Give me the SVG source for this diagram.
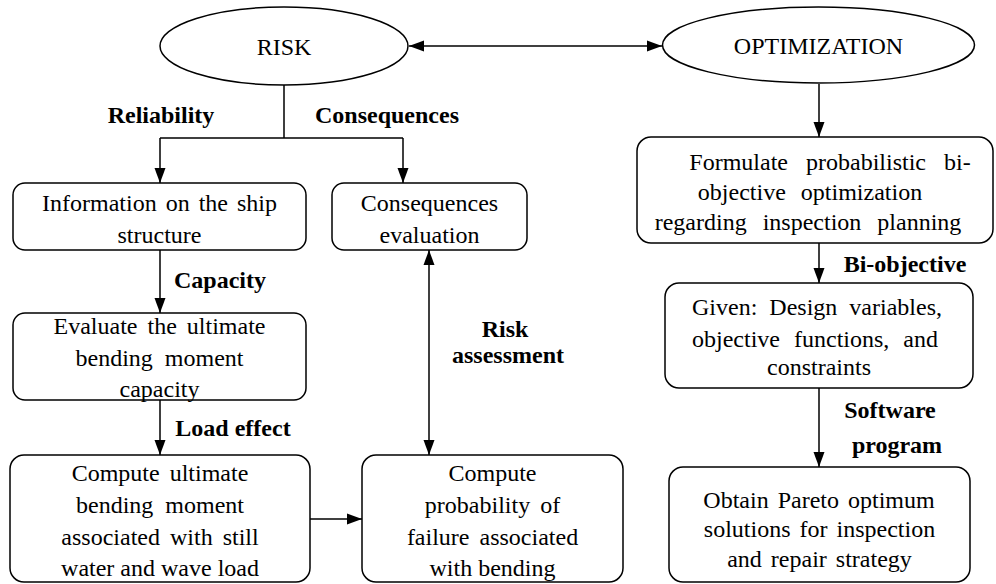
<svg xmlns="http://www.w3.org/2000/svg" width="996" height="584" viewBox="0 0 996 584">
<style>
.n{fill:#fff;stroke:#000;stroke-width:1.5}
.t{font-family:"Liberation Serif","Times New Roman",serif;font-size:24px;fill:#000;text-anchor:middle}
.b{font-family:"Liberation Serif","Times New Roman",serif;font-size:24px;font-weight:bold;fill:#000;text-anchor:middle}
.c{fill:none;stroke:#000;stroke-width:1.5}
</style>
<defs>
<marker id="ah" markerUnits="userSpaceOnUse" markerWidth="16" markerHeight="12" refX="15" refY="5.5" orient="auto-start-reverse" viewBox="0 0 16 11">
<path d="M0,0 L15,5.5 L0,11 z" fill="#000"/>
</marker>
</defs>
<rect width="996" height="584" fill="#fff"/>
<g id="connectors">
<path class="c" d="M409,46 H662" marker-start="url(#ah)" marker-end="url(#ah)"/>
<path class="c" d="M284,85 V138 M160,138 H403"/>
<path class="c" d="M160,138 V183" marker-end="url(#ah)"/>
<path class="c" d="M403,138 V183" marker-end="url(#ah)"/>
<path class="c" d="M160,250 V313" marker-end="url(#ah)"/>
<path class="c" d="M160,400 V455" marker-end="url(#ah)"/>
<path class="c" d="M310,519 H362" marker-end="url(#ah)"/>
<path class="c" d="M429,250 V455" marker-start="url(#ah)" marker-end="url(#ah)"/>
<path class="c" d="M819,84 V137" marker-end="url(#ah)"/>
<path class="c" d="M819,243 V283" marker-end="url(#ah)"/>
<path class="c" d="M819,388 V467" marker-end="url(#ah)"/>
<text class="b" x="161" y="123">Reliability</text>
<text class="b" x="387" y="123">Consequences</text>
<text class="b" x="220" y="288">Capacity</text>
<text class="b" x="233" y="436">Load effect</text>
<text class="b" x="505" y="337">Risk</text>
<text class="b" x="508" y="363">assessment</text>
<text class="b" x="905" y="272">Bi-objective</text>
<text class="b" x="890" y="418">Software</text>
<text class="b" x="897" y="453">program</text>
</g>
<g id="risk">
<ellipse class="n" cx="284" cy="46" rx="124" ry="39"/>
<text class="t" x="284" y="55">RISK</text>
</g>
<g id="optimization">
<ellipse class="n" cx="818.5" cy="45" rx="156" ry="38"/>
<text class="t" x="818.5" y="54">OPTIMIZATION</text>
</g>
<g id="info">
<rect class="n" x="13" y="183" width="293" height="67" rx="12"/>
<text class="t" x="159.5" y="211" word-spacing="3">Information on the ship</text>
<text class="t" x="159.5" y="243">structure</text>
</g>
<g id="conseq">
<rect class="n" x="332" y="183" width="195" height="67" rx="12"/>
<text class="t" x="429.5" y="211">Consequences</text>
<text class="t" x="429.5" y="243">evaluation</text>
</g>
<g id="evaluate">
<rect class="n" x="13" y="313" width="293" height="87" rx="12"/>
<text class="t" x="159.5" y="334" word-spacing="4">Evaluate the ultimate</text>
<text class="t" x="159.5" y="366" word-spacing="6">bending moment</text>
<text class="t" x="159.5" y="397">capacity</text>
</g>
<g id="computeult">
<rect class="n" x="10" y="455" width="300" height="127" rx="14"/>
<text class="t" x="160" y="481" word-spacing="4">Compute ultimate</text>
<text class="t" x="160" y="513" word-spacing="6">bending moment</text>
<text class="t" x="160" y="545" word-spacing="4">associated with still</text>
<text class="t" x="160" y="576">water and wave load</text>
</g>
<g id="computeprob">
<rect class="n" x="362" y="455" width="261" height="127" rx="14"/>
<text class="t" x="492.5" y="481">Compute</text>
<text class="t" x="492.5" y="513" word-spacing="4">probability of</text>
<text class="t" x="492.5" y="545" word-spacing="4">failure associated</text>
<text class="t" x="492.5" y="576">with bending</text>
</g>
<g id="formulate">
<rect class="n" x="637" y="137" width="356" height="106" rx="14"/>
<text class="t" x="830" y="170" word-spacing="12">Formulate probabilistic bi-</text>
<text class="t" x="810" y="200" word-spacing="9">objective optimization</text>
<text class="t" x="808" y="230" word-spacing="10">regarding inspection planning</text>
</g>
<g id="given">
<rect class="n" x="665" y="283" width="308" height="105" rx="14"/>
<text class="t" x="817" y="315" word-spacing="6">Given: Design variables,</text>
<text class="t" x="815" y="347" word-spacing="8">objective functions, and</text>
<text class="t" x="819" y="375">constraints</text>
</g>
<g id="obtain">
<rect class="n" x="669" y="467" width="301" height="115" rx="14"/>
<text class="t" x="819" y="508" word-spacing="3">Obtain Pareto optimum</text>
<text class="t" x="819.5" y="537" word-spacing="3">solutions for inspection</text>
<text class="t" x="819.5" y="567" word-spacing="3">and repair strategy</text>
</g>
</svg>
